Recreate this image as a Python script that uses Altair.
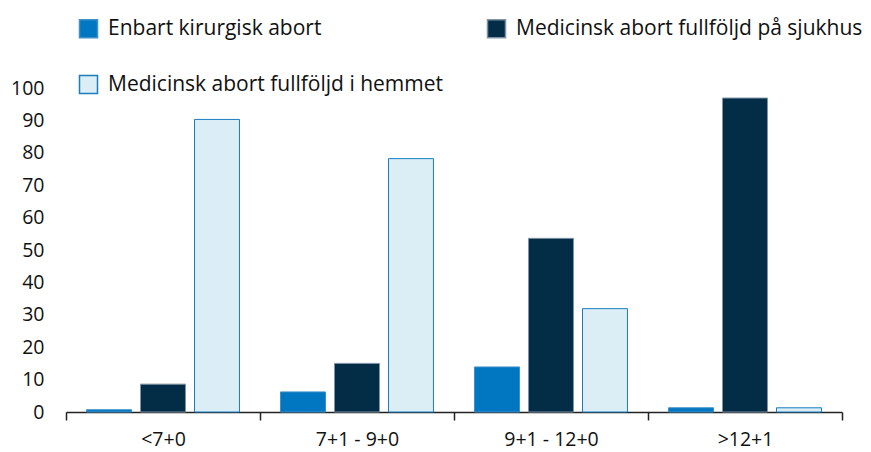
import altair as alt
import pandas as pd

categories = ["<7+0", "7+1 - 9+0", "9+1 - 12+0", ">12+1"]
series = ["Enbart kirurgisk abort", "Medicinsk abort fullföljd på sjukhus", "Medicinsk abort fullföljd i hemmet"]
kirurgisk = [0.7, 6.2, 13.9, 1.3]
sjukhus = [8.6, 15.0, 53.6, 96.9]
hemmet = [90.3, 78.2, 31.9, 1.3]

rows = []
for i, c in enumerate(categories):
    for s, vals in zip(series, [kirurgisk, sjukhus, hemmet]):
        rows.append({"grupp": c, "serie": s, "andel": vals[i]})
df = pd.DataFrame(rows)

fills = ["#0077c0", "#032d46", "#dbeef6"]
strokes = ["#3f8fc8", "#7f93a5", "#1a7dc0"]
FONT = "Open Sans"

chart = alt.Chart(df).mark_bar(strokeWidth=1).encode(
    x=alt.X("grupp:N", sort=categories, title=None,
            scale=alt.Scale(paddingInner=0, paddingOuter=0),
            axis=alt.Axis(labelAngle=0, tickBand="extent", tickSize=8, tickWidth=1.5,
                          tickColor="#222222", domainColor="#222222", domainWidth=1.5,
                          labelPadding=10, labelFontSize=19.5, labelColor="#111111",
                          labelFont=FONT)),
    xOffset=alt.XOffset("serie:N", sort=series,
                        scale=alt.Scale(paddingInner=0.1667, paddingOuter=0.38)),
    y=alt.Y("andel:Q", title=None,
            scale=alt.Scale(domain=[0, 100], nice=False),
            axis=alt.Axis(values=list(range(0, 101, 10)), domain=False, ticks=False,
                          tickSize=0, grid=False, labelPadding=22, labelFontSize=19.5,
                          labelColor="#111111", labelFont=FONT)),
    fill=alt.Fill("serie:N", sort=series, title=None,
                  scale=alt.Scale(domain=series, range=fills),
                  legend=alt.Legend(orient="none", legendX=12, legendY=-70, columns=2,
                                    columnPadding=41, rowPadding=31, symbolType="square",
                                    symbolSize=324, symbolStrokeWidth=1.5, labelFontSize=21,
                                    labelFont=FONT, labelColor="#111111", labelLimit=600,
                                    labelOffset=9, direction="horizontal")),
    stroke=alt.Stroke("serie:N", sort=series, title=None,
                      scale=alt.Scale(domain=series, range=strokes)),
).properties(
    width=776, height=324,
    autosize=alt.AutoSizeParams(type="none"),
    padding={"left": 58, "top": 80, "right": 21, "bottom": 44},
).configure_view(stroke=None)

chart.save("out.html", embed_options={"renderer": "svg", "actions": False})
